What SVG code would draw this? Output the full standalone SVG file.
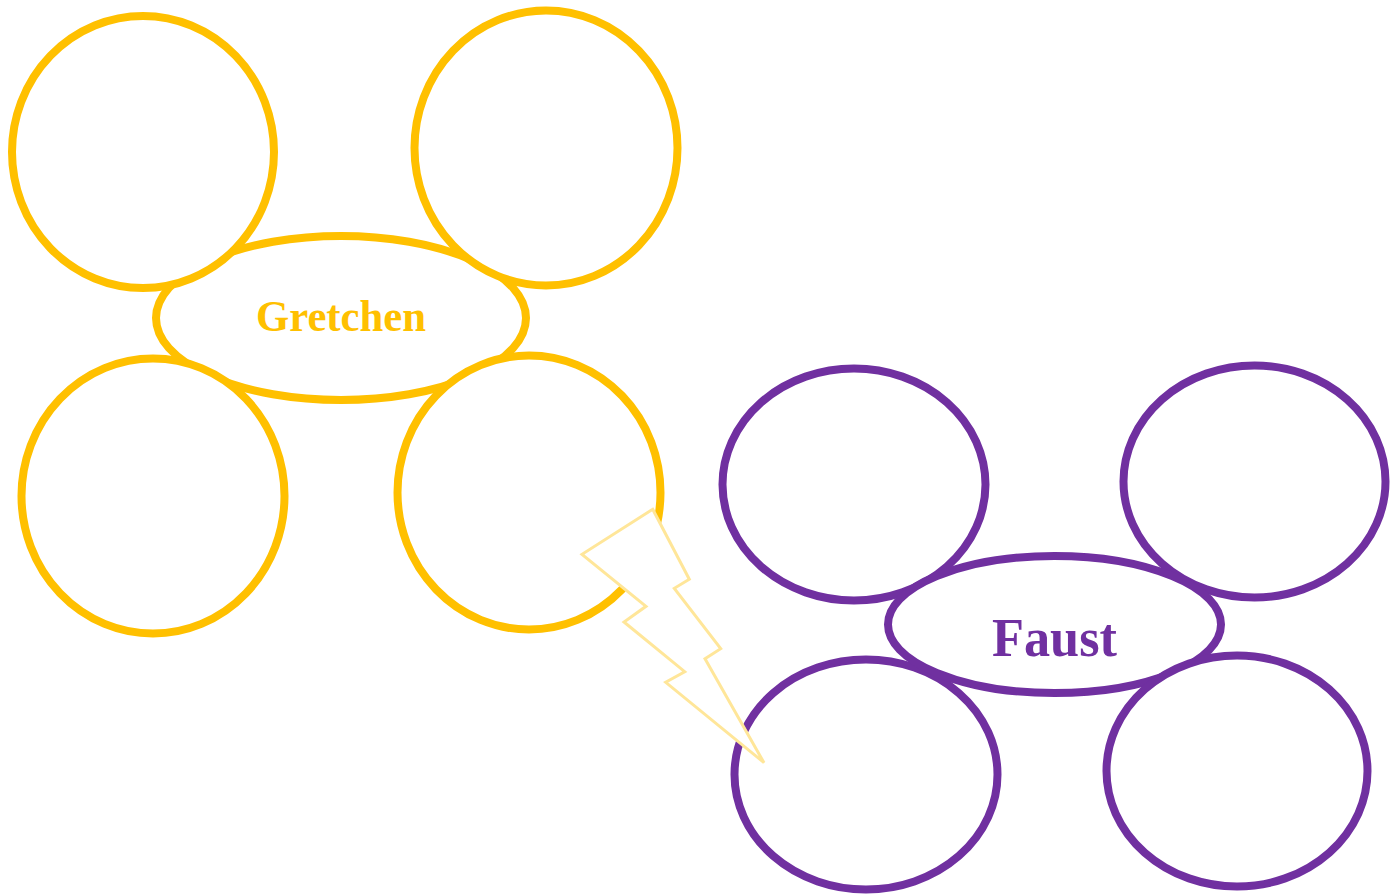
<svg xmlns="http://www.w3.org/2000/svg" width="1400" height="896" viewBox="0 0 1400 896">
<style>
.g{fill:#fff;stroke:#FFC000;stroke-width:8}
.f{fill:#fff;stroke:#7030A0;stroke-width:8}
text{font-family:"Liberation Serif","Times New Roman",serif;font-weight:bold;text-anchor:middle}
</style>
<rect width="1400" height="896" fill="#fff"/>
<g id="gretchen-center"><ellipse class="g" cx="341" cy="318" rx="185" ry="82"/><text x="341" y="331" font-size="44.500" fill="#FFC000" textLength="170" lengthAdjust="spacingAndGlyphs">Gretchen</text></g>
<g id="gretchen-1"><ellipse class="g" cx="143" cy="152" rx="131" ry="136"/></g>
<g id="gretchen-2"><ellipse class="g" cx="546" cy="148" rx="131.500" ry="137.500"/></g>
<g id="gretchen-3"><ellipse class="g" cx="153" cy="496" rx="131.500" ry="137.500"/></g>
<g id="gretchen-4"><ellipse class="g" cx="529" cy="492.500" rx="131.500" ry="137"/></g>
<g id="faust-1"><ellipse class="f" cx="854" cy="484.500" rx="131.500" ry="116"/></g>
<g id="faust-2"><ellipse class="f" cx="1254.500" cy="481.500" rx="131" ry="116"/></g>
<g id="faust-3"><ellipse class="f" cx="866" cy="774.500" rx="131.500" ry="115"/></g>
<g id="faust-center"><ellipse class="f" cx="1054.500" cy="624.500" rx="166.500" ry="68.500"/><text x="1054.500" y="656" font-size="54.500" fill="#7030A0" textLength="125" lengthAdjust="spacingAndGlyphs">Faust</text></g>
<g id="faust-4"><ellipse class="f" cx="1237" cy="771" rx="130.500" ry="115.500"/></g>
<g id="connectors"><polygon points="652.700,509.300 689.300,579.300 674.300,588.300 720.700,648.700 705,658.700 764,762.700 665.700,682.300 684.700,671.700 624,622 646,606.300 582,554.300" fill="#fff" stroke="#FFE699" stroke-width="3"/></g>
</svg>
